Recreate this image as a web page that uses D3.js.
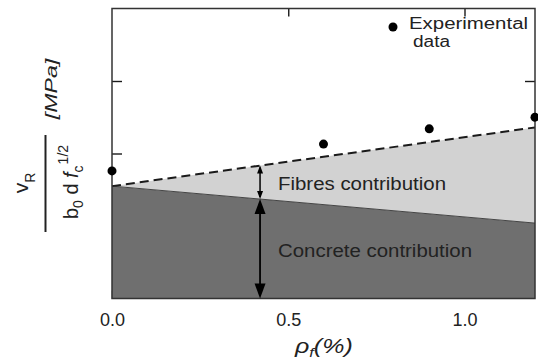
<!DOCTYPE html>
<html>
<head>
<meta charset="utf-8">
<script src="https://cdn.jsdelivr.net/npm/d3@7"></script>
<style>
  html, body { margin: 0; padding: 0; background: #fff; }
  svg { display: block; font-family: "Liberation Sans", Arial, Helvetica, sans-serif; }
</style>
</head>
<body>
<div id="chart"></div>
<script>
'use strict';

// axis setup
const xDomain = [0, 1.2];
const yDomain = [0, 4];
const xTicks = [0, 0.5, 1.0];
const yTicks = [1, 2, 3];

// experimental points
const expX = [0, 0.6, 0.9, 1.2];
const expY = [1.76, 2.13, 2.34, 2.50];

// model lines (straight, two ends)
const modelX = [0, 1.2];
const concreteY = [1.55, 1.04];
const totalY = [1.55, 2.36];

// where the contribution arrows sit
const arrowX = 0.42;

const width = 538, height = 360;
const margin = { top: 8.5, right: 3, bottom: 61.5, left: 112 };

const svg = d3.select("#chart")
    .append("svg")
    .attr("width", width)
    .attr("height", height);

const x = d3.scaleLinear().domain(xDomain).range([margin.left, width - margin.right]);
const y = d3.scaleLinear().domain(yDomain).range([height - margin.bottom, margin.top]);

const ink = "#1a1a1a";

// ticks (inward), drawn first so the fills cover the hidden ones
svg.append("g")
    .attr("transform", `translate(${x(xDomain[0])},0)`)
    .call(d3.axisLeft(y).tickValues(yTicks).tickSize(-10).tickFormat(""))
    .call(g => g.select(".domain").remove());
svg.append("g")
    .attr("transform", `translate(${x(xDomain[1])},0)`)
    .call(d3.axisRight(y).tickValues(yTicks).tickSize(-10).tickFormat(""))
    .call(g => g.select(".domain").remove());
svg.append("g")
    .attr("transform", `translate(0,${y(yDomain[1])})`)
    .call(d3.axisTop(x).tickValues(xTicks.slice(1)).tickSize(-8).tickFormat(""))
    .call(g => g.select(".domain").remove());

const xAxis = svg.append("g")
    .attr("transform", `translate(0,${y(yDomain[0])})`)
    .call(d3.axisBottom(x).tickValues(xTicks).tickSize(-8).tickPadding(15).tickFormat(d3.format(".1f")));
xAxis.select(".domain").remove();
xAxis.selectAll(".tick text")
    .attr("fill", "#222")
    .style("font-size", "18px");
svg.selectAll(".tick line").attr("stroke", ink).attr("stroke-width", 1.4);

// fills
const pts = modelX.map((d, i) => ({ x: d, c: concreteY[i], t: totalY[i] }));

svg.append("path")
    .datum(pts)
    .attr("fill", "#6f6f6f")
    .attr("d", d3.area().x(d => x(d.x)).y0(y(0)).y1(d => y(d.c)));

svg.append("path")
    .datum(pts)
    .attr("fill", "#d2d2d2")
    .attr("d", d3.area().x(d => x(d.x)).y0(d => y(d.c)).y1(d => y(d.t)));

svg.append("path")
    .datum(pts)
    .attr("fill", "none")
    .attr("stroke", "#444")
    .attr("stroke-width", 1)
    .attr("d", d3.line().x(d => x(d.x)).y(d => y(d.c)));

svg.append("path")
    .datum(pts)
    .attr("fill", "none")
    .attr("stroke", ink)
    .attr("stroke-width", 2)
    .attr("stroke-dasharray", "9,5")
    .attr("d", d3.line().x(d => x(d.x)).y(d => y(d.t)));

// frame
svg.append("rect")
    .attr("x", x(xDomain[0]))
    .attr("y", y(yDomain[1]))
    .attr("width", x(xDomain[1]) - x(xDomain[0]))
    .attr("height", y(yDomain[0]) - y(yDomain[1]))
    .attr("fill", "none")
    .attr("stroke", "#333")
    .attr("stroke-width", 1.5);

// experimental points
svg.selectAll(".exp")
    .data(expX.map((d, i) => ({ x: d, y: expY[i] })))
    .enter()
    .append("circle")
    .attr("class", "exp")
    .attr("cx", d => x(d.x))
    .attr("cy", d => y(d.y))
    .attr("r", 4.5)
    .attr("fill", "#000");

// arrows
function arrowHead(tipX, tipY, dir, w, len) {
    // dir = -1 points up, +1 points down
    return `M${tipX},${tipY} L${tipX - w / 2},${tipY - dir * len} L${tipX + w / 2},${tipY - dir * len} Z`;
}
const t01 = arrowX / (modelX[1] - modelX[0]);
const aTot = d3.interpolateNumber(totalY[0], totalY[1])(t01);
const aCon = d3.interpolateNumber(concreteY[0], concreteY[1])(t01);
const ax = x(arrowX);

const arrows = svg.append("g").attr("fill", "#000").attr("stroke", "#000");
arrows.append("line")
    .attr("x1", ax).attr("x2", ax)
    .attr("y1", y(aTot) + 2).attr("y2", y(aCon) - 2)
    .attr("stroke-width", 1.5);
arrows.append("path").attr("stroke", "none").attr("d", arrowHead(ax, y(aTot), -1, 6, 8));
arrows.append("path").attr("stroke", "none").attr("d", arrowHead(ax, y(aCon), 1, 6, 8));
arrows.append("line")
    .attr("x1", ax).attr("x2", ax)
    .attr("y1", y(aCon) + 4).attr("y2", y(0) - 4)
    .attr("stroke-width", 1.8);
arrows.append("path").attr("stroke", "none").attr("d", arrowHead(ax, y(aCon), -1, 11, 15));
arrows.append("path").attr("stroke", "none").attr("d", arrowHead(ax, y(0), 1, 11, 15));

// region labels
svg.append("text")
    .attr("x", 278).attr("y", 190)
    .attr("fill", "#222")
    .style("font-size", "18px")
    .attr("textLength", 168).attr("lengthAdjust", "spacingAndGlyphs")
    .text("Fibres contribution");
svg.append("text")
    .attr("x", 278).attr("y", 257)
    .attr("fill", "#222")
    .style("font-size", "18px")
    .attr("textLength", 194).attr("lengthAdjust", "spacingAndGlyphs")
    .text("Concrete contribution");

// legend
svg.append("circle").attr("cx", 393).attr("cy", 27).attr("r", 4.5).attr("fill", "#000");
svg.append("text")
    .attr("x", 409).attr("y", 29)
    .attr("fill", "#222")
    .style("font-size", "16px")
    .attr("textLength", 119).attr("lengthAdjust", "spacingAndGlyphs")
    .text("Experimental");
svg.append("text")
    .attr("x", 413).attr("y", 47)
    .attr("fill", "#222")
    .style("font-size", "16px")
    .attr("textLength", 37).attr("lengthAdjust", "spacingAndGlyphs")
    .text("data");

// x axis title (glyphs widened like the source figure)
const xt = svg.append("g")
    .attr("transform", "translate(295,353) scale(1.25,1)")
    .append("text")
    .attr("fill", "#222")
    .style("font-size", "20px")
    .style("font-style", "italic");
xt.append("tspan").text("ρ");
xt.append("tspan").attr("dy", 4).style("font-size", "13px").text("f");
xt.append("tspan").attr("dy", -4).text("(%)");

// y axis title: rotated fraction
function rotText(px, py, size, stretch = 1) {
    return svg.append("g")
        .attr("transform", `translate(${px},${py}) rotate(-90) scale(${stretch},1)`)
        .append("text")
        .attr("text-anchor", "middle")
        .attr("fill", "#222")
        .style("font-size", size + "px");
}

const num = rotText(28, 183, 21);
num.append("tspan").text("v");
num.append("tspan").attr("dy", 7).style("font-size", "14px").text("R");

svg.append("line")
    .attr("x1", 45.5).attr("x2", 45.5)
    .attr("y1", 135).attr("y2", 232)
    .attr("stroke", "#222")
    .attr("stroke-width", 2);

const den = rotText(78, 182, 20);
den.append("tspan").text("b");
den.append("tspan").attr("dy", 5).style("font-size", "14px").text("0");
den.append("tspan").attr("dy", -5).text(" d ");
den.append("tspan").style("font-style", "italic").text("f");
den.append("tspan").attr("dy", 5).style("font-size", "14px").text("c");
den.append("tspan").attr("dy", -15).attr("dx", 1).style("font-size", "14px").text("1/2");

rotText(57, 89, 16, 1.45)
    .style("font-style", "italic")
    .text("[MPa]");
</script>
</body>
</html>
